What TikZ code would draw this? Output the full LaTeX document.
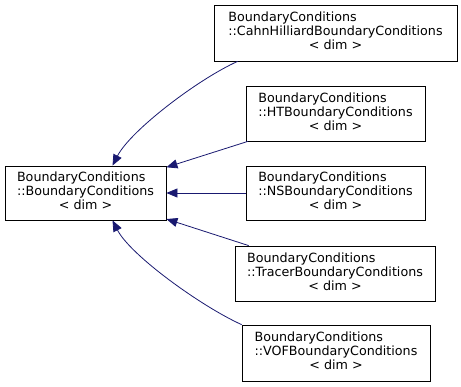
\documentclass[tikz,border=0pt]{standalone}
\usepackage{fontspec}
\setmainfont{DejaVu Sans}
\usetikzlibrary{arrows.meta,positioning}
\definecolor{edgeblue}{RGB}{25,25,112}

% class label: namespace and class left aligned, template argument centred
\newcommand{\clslabel}[1]{%
  \begin{tabular}{@{}l@{}}BoundaryConditions\\::#1\\
  \multicolumn{1}{@{}c@{}}{< dim >}\end{tabular}}

\begin{document}
\begin{tikzpicture}[x=1pt,y=-1pt,
  cls/.style={draw=black, line width=0.8pt, fill=white, inner sep=0pt,
    font=\fontsize{12.7}{14}\selectfont},
  inherit/.style={edgeblue, line width=0.8pt,
    -{Triangle[length=11pt,width=9pt]}}]
  \useasboundingbox (0,0) rectangle (461,387);

  % base class
  \node[cls, minimum width=161pt, minimum height=54pt] (base) at (85.5,193)
    {\clslabel{BoundaryConditions}};

  % derived classes
  \node[cls, minimum width=243pt, minimum height=56pt] (cahn) at (335.5,33)
    {\clslabel{CahnHilliardBoundaryConditions}};
  \node[cls, minimum width=179pt, minimum height=55pt] (ht) at (335.5,113.5)
    {\clslabel{HTBoundaryConditions}};
  \node[cls, minimum width=179pt, minimum height=54pt] (ns) at (335.5,193)
    {\clslabel{NSBoundaryConditions}};
  \node[cls, minimum width=200pt, minimum height=55pt] (tracer) at (335,273.5)
    {\clslabel{TracerBoundaryConditions}};
  \node[cls, minimum width=188pt, minimum height=56pt] (vof) at (336,353)
    {\clslabel{VOFBoundaryConditions}};

  \draw[inherit] ([xshift=24pt]cahn.south west)
    .. controls +(-40,18) and +(18,-35) .. ([xshift=27pt]base.north);
  \draw[inherit] (ht) -- (base);
  \draw[inherit] (ns) -- (base);
  \draw[inherit] (tracer) -- (base);
  \draw[inherit] (vof.north west)
    .. controls +(-40,-18) and +(18,35) .. ([xshift=27pt]base.south);
\end{tikzpicture}
\end{document}
